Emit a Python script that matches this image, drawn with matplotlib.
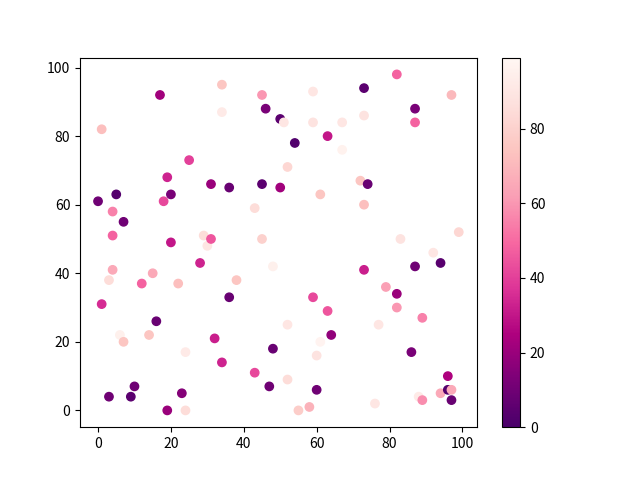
import matplotlib

matplotlib.use("Agg")
import matplotlib.pyplot as plt

plt.rcParams["font.family"] = ["Noto Sans CJK SC", "DejaVu Sans"]

x = [0, 1, 1, 3, 3, 4, 4, 4, 5, 6, 7, 7, 9, 10, 12, 14, 15, 16, 17, 18,
     19, 19, 20, 20, 22, 23, 24, 24, 25, 28, 29, 30, 31, 31, 32, 34, 34, 34, 36, 36,
     38, 43, 43, 45, 45, 45, 46, 47, 48, 48, 50, 50, 51, 52, 52, 52, 54, 55, 58, 59,
     59, 59, 60, 60, 61, 61, 63, 63, 64, 67, 67, 72, 73, 73, 73, 73, 74, 76, 77, 79,
     82, 82, 82, 83, 86, 87, 87, 87, 88, 89, 89, 92, 94, 94, 96, 96, 97, 97, 97, 99]
y = [61, 82, 31, 38, 4, 58, 51, 41, 63, 22, 20, 55, 4, 7, 37, 22, 40, 26, 92, 61,
     68, 0, 63, 49, 37, 5, 0, 17, 73, 43, 51, 48, 66, 50, 21, 95, 87, 14, 65, 33,
     38, 59, 11, 92, 66, 50, 88, 7, 42, 18, 85, 65, 84, 71, 25, 9, 78, 0, 1, 93,
     84, 33, 16, 6, 63, 20, 80, 29, 22, 84, 76, 67, 94, 86, 60, 41, 66, 2, 25, 36,
     98, 34, 30, 50, 17, 88, 84, 42, 4, 27, 3, 46, 43, 5, 10, 6, 6, 3, 92, 52]
c = [10, 72, 35, 85, 10, 55, 48, 65, 3, 95, 75, 10, 5, 10, 48, 75, 65, 8, 22, 42,
     33, 20, 12, 30, 72, 15, 85, 92, 40, 33, 85, 90, 20, 45, 32, 75, 92, 33, 8, 8,
     75, 85, 42, 60, 5, 80, 12, 10, 95, 8, 5, 22, 90, 82, 90, 85, 2, 78, 68, 90,
     88, 42, 88, 10, 75, 97, 30, 45, 18, 90, 96, 75, 5, 88, 72, 32, 8, 90, 90, 62,
     48, 20, 60, 88, 12, 12, 48, 10, 92, 55, 58, 90, 4, 65, 25, 3, 65, 8, 70, 82]

fig, ax = plt.subplots(figsize=(6.4, 4.8), dpi=100)
points = ax.scatter(x, y, c=c, cmap="RdPu_r", vmin=0, vmax=99)
fig.colorbar(points, ax=ax)
fig.savefig("out.png")
